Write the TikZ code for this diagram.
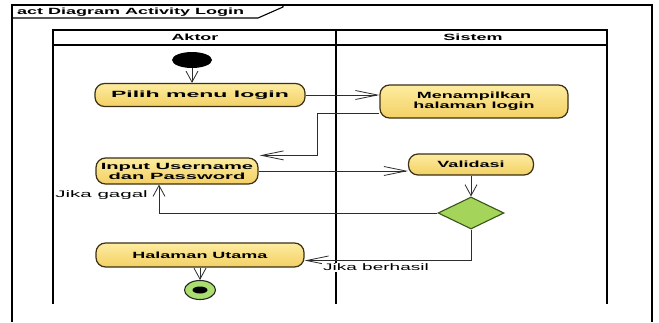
\documentclass[tikz,border=0pt]{standalone}
\usepackage{graphicx}
\usepackage{fontspec}
\newfontfamily\umlfont[FakeStretch=2.0]{Liberation Sans}
\usetikzlibrary{arrows.meta,shapes.geometric,calc}

\definecolor{acttop}{RGB}{253,236,160}
\definecolor{actbot}{RGB}{243,208,100}
\definecolor{actline}{RGB}{60,48,20}
\definecolor{decfill}{RGB}{165,212,90}
\definecolor{decline}{RGB}{55,85,25}
\definecolor{endfill}{RGB}{170,222,110}
\definecolor{wire}{RGB}{45,45,45}

% horizontally widened text
\newcommand{\wider}[2]{\scalebox{#1}[1]{#2}}

\tikzset{
  frame/.style={draw=black, line width=1.1pt},
  lane/.style={draw=black, line width=1.6pt},
  titletext/.style={font=\umlfont\bfseries\fontsize{9}{10}\selectfont, inner sep=0pt},
  head/.style={font=\umlfont\bfseries\fontsize{9}{10}\selectfont, inner sep=0pt},
  act/.style={draw=actline, line width=1.2pt, rectangle, rounded corners=9.5pt,
    top color=acttop, bottom color=actbot, inner sep=0pt, align=center,
    font=\umlfont\bfseries\fontsize{9}{10}\selectfont},
  decision/.style={diamond, draw=decline, line width=1.1pt, fill=decfill,
    inner sep=0pt, minimum width=66pt, minimum height=32pt},
  startnode/.style={ellipse, fill=black, inner sep=0pt,
    minimum width=40pt, minimum height=16pt},
  endring/.style={ellipse, draw=black!85, line width=1.1pt, fill=endfill,
    inner sep=0pt, minimum width=31pt, minimum height=19pt},
  enddot/.style={ellipse, fill=black, inner sep=0pt,
    minimum width=15pt, minimum height=7pt},
  lbl/.style={font=\umlfont\fontsize{9.5}{10}\selectfont, fill=white, inner sep=1pt},
  conn/.style={draw=wire, line width=0.8pt},
  harrow/.style={-{Straight Barb[length=22pt,width=9pt]}},
  varrow/.style={-{Straight Barb[length=11pt,width=12pt]}},
}

\begin{document}
\begin{tikzpicture}[x=1pt,y=-1pt]
\useasboundingbox (0,0) rectangle (659,322);
\fill[white] (0,0) rectangle (659,322);

% diagram frame with its name tab
\draw[frame] (12,322) -- (12,5) -- (652,5) -- (652,322);
\draw[frame] (12,18) -- (258,18) -- (283,7) -- (283,5);
\node[titletext, anchor=west] (title) at (17,12) {act Diagram Activity Login};

% swimlanes
\draw[lane] (53,304) -- (53,30) -- (607,30) -- (607,304);
\draw[lane] (53,45) -- (607,45);
\draw[lane] (336,30) -- (336,304);
\node[head] (hA) at (195,37.5) {Aktor};
\node[head] (hS) at (473,37.5) {Sistem};

% activities
\node[startnode] (start) at (192,60) {};
\node[act, minimum width=210pt, minimum height=23pt] (pilih) at (200,95) {\wider{1.28}{Pilih menu login}};
\node[act, minimum width=188pt, minimum height=33pt] (show) at (474,101.5) {Menampilkan\\halaman login};
\node[act, minimum width=162pt, minimum height=26pt] (input) at (177,171)
  {\wider{1.12}{Input Username}\\\wider{1.12}{dan Password}};
\node[act, minimum width=125pt, minimum height=21pt] (valid) at (471,164.5) {Validasi};
\node[decision] (dec) at (471,213) {};
\node[act, minimum width=208pt, minimum height=24pt] (home) at (200,255) {Halaman Utama};
\node[endring] (stop) at (200,290) {};
\node[enddot] (stopdot) at (200,290) {};

% flows
\draw[conn,varrow] (start.south) -- (start.south |- pilih.north);
\draw[conn,harrow] (pilih.east) -- (pilih.east -| show.west);
\draw[conn,harrow] ([yshift=-11.5pt]show.west) -- ++(-62,0)
  |- ([xshift=1pt,yshift=2pt]input.north east);
\draw[conn,harrow] (input.east) -- (input.east -| valid.west);
\draw[conn,varrow] (valid.south) -- (dec.north);
\draw[conn,varrow] (dec.west) -| ([xshift=-18pt]input.south);
\draw[conn,harrow] (dec.south) |- ([yshift=-5.5pt]home.east);
\draw[conn,varrow] (home.south) -- (stop.north);

% guard labels
\node[lbl, anchor=east] (gagal) at (149,195) {\wider{1.08}{Jika gagal}};
\node[lbl, anchor=north west] (berhasil) at (322,262.5) {Jika berhasil};
\end{tikzpicture}
\end{document}
